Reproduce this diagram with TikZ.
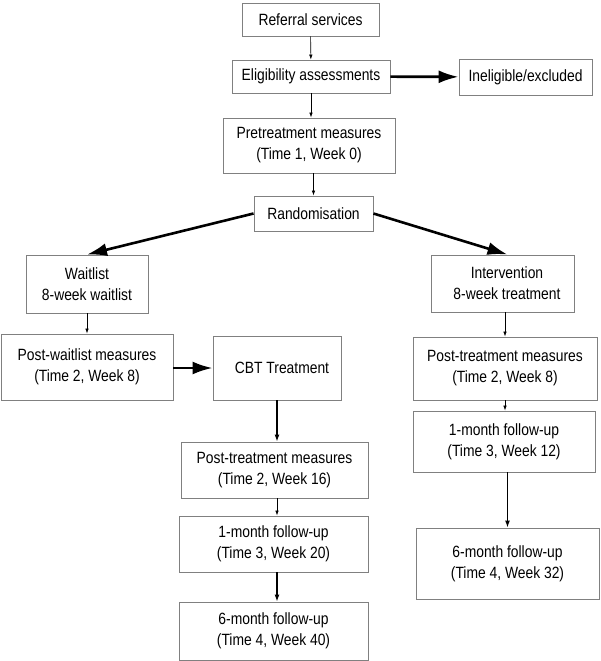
\documentclass[tikz,border=0pt]{standalone}
\usepackage{fontspec}
\setmainfont{Liberation Sans}[FakeStretch=0.85]
\usetikzlibrary{arrows.meta}
\definecolor{boxgray}{RGB}{128,128,128}
\tikzset{
  box/.style={draw=boxgray, line width=0.9pt, inner sep=0pt, align=center,
    font=\fontsize{16.3}{21}\selectfont},
  thinarr/.style={line width=0.6pt, -{Latex[length=5pt,width=3.5pt]}},
  medarr/.style={line width=1.2pt, -{Latex[length=7pt,width=5pt]}},
  thickarr/.style={line width=2.6pt, -{Latex[length=20pt,width=13pt]}},
}
\begin{document}
\begin{tikzpicture}[x=1pt,y=-1pt]
\useasboundingbox (0,0) rectangle (600,661);
\node[box, minimum width=137pt, minimum height=33pt] (ref) at (310.5,19.5) {Referral services};
\node[box, minimum width=158pt, minimum height=33pt] (elig) at (311,76.5) {Eligibility assessments};
\node[box, minimum width=133pt, minimum height=36pt] (inel) at (525.5,77) {Ineligible/excluded};
\node[box, minimum width=172pt, minimum height=55pt] (pre) at (309,145.5) {Pretreatment measures\\(Time 1, Week 0)};
\node[box, minimum width=119pt, minimum height=35pt] (rand) at (313.5,213.5) {Randomisation};
\node[box, minimum width=122pt, minimum height=58pt] (wait) at (87,284) {Waitlist\\8-week waitlist};
\node[box, minimum width=143pt, minimum height=57pt] (interv) at (502.5,283.5) {\hspace*{9pt}Intervention\\\hspace*{9pt}8-week treatment};
\node[box, minimum width=172pt, minimum height=66pt] (postw) at (87,367) {Post-waitlist measures\\(Time 2, Week 8)};
\node[box, minimum width=128pt, minimum height=64pt] (cbt) at (277,368) {\hspace*{10pt}CBT Treatment};
\node[box, minimum width=184pt, minimum height=63pt] (postR) at (505,368.5) {Post-treatment measures\\(Time 2, Week 8)};
\node[box, minimum width=182pt, minimum height=61pt] (fu1R) at (504,441.5) {1-month follow-up\\(Time 3, Week 12)};
\node[box, minimum width=183pt, minimum height=71pt] (fu6R) at (507.5,563.5) {6-month follow-up\\(Time 4, Week 32)};
\node[box, minimum width=187pt, minimum height=56pt] (postM) at (274.5,470) {Post-treatment measures\\(Time 2, Week 16)};
\node[box, minimum width=189pt, minimum height=56pt] (fu1M) at (273.5,544) {1-month follow-up\\(Time 3, Week 20)};
\node[box, minimum width=189pt, minimum height=58pt] (fu6M) at (273.5,631) {6-month follow-up\\(Time 4, Week 40)};

\draw[thinarr] (ref) -- (elig);
\draw[thickarr] (elig) -- (inel);
\draw[thinarr] (elig) -- (elig |- pre.north);
\draw[thinarr] (pre.south -| rand) -- (rand);
\draw[thickarr] (rand.west) -- (wait.north);
\draw[thickarr] (rand.east) -- ([xshift=5pt]interv.north);
\draw[thinarr] (wait) -- (postw);
\draw[thickarr] (postw.east |- cbt) -- (cbt.west);
\draw[medarr] (cbt) -- (cbt |- postM.north);
\draw[thinarr] (cbt |- postM.south) -- (cbt |- fu1M.north);
\draw[medarr] (cbt |- fu1M.south) -- (cbt |- fu6M.north);
\draw[thinarr] (postR |- interv.south) -- (postR);
\draw[thinarr] (postR) -- (postR |- fu1R.north);
\draw[medarr] (fu6R |- fu1R.south) -- (fu6R);
\end{tikzpicture}
\end{document}
